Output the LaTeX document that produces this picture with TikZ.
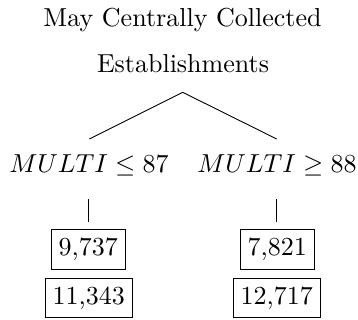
\RequirePackage{fix-cm}
\documentclass[tikz,border=0pt]{standalone}
\begin{document}
\begin{tikzpicture}[x=1pt,y=-1pt,
  every node/.style={font=\fontsize{10}{12}\selectfont, inner sep=0pt, scale=2.6},
  lbl/.style={anchor=base},
  valbox/.style={draw, line width=0.9pt, inner xsep=2.85pt, inner ysep=3.2pt, anchor=base},
  conn/.style={line width=0.9pt}]
\useasboundingbox (0,0) rectangle (358,320);
\node[lbl] (t1) at (182.5,26.7) {May Centrally Collected};
\node[lbl] (t2) at (183,72.7) {Establishments};
\node[lbl] (l) at (89,172.5) {$MULTI \leq 87$};
\node[lbl] (r) at (277,172.5) {$MULTI \geq 88$};
\node[valbox] (l1) at (88.3,255.8) {9,737};
\node[valbox] (l2) at (88.8,304.4) {11,343};
\node[valbox] (r1) at (277.2,255.8) {7,821};
\node[valbox] (r2) at (276.8,304.4) {12,717};
\coordinate (apex) at (182.7,92.3);
\coordinate (le) at (89.3,139);
\coordinate (re) at (276.7,139);
\coordinate (lv1) at (88.7,199);
\coordinate (lv2) at (88.7,222);
\coordinate (rv1) at (276.3,199);
\coordinate (rv2) at (276.3,222);
\draw[conn] (le) -- (apex) -- (re);
\draw[conn] (lv1) -- (lv2);
\draw[conn] (rv1) -- (rv2);
\end{tikzpicture}
\end{document}
